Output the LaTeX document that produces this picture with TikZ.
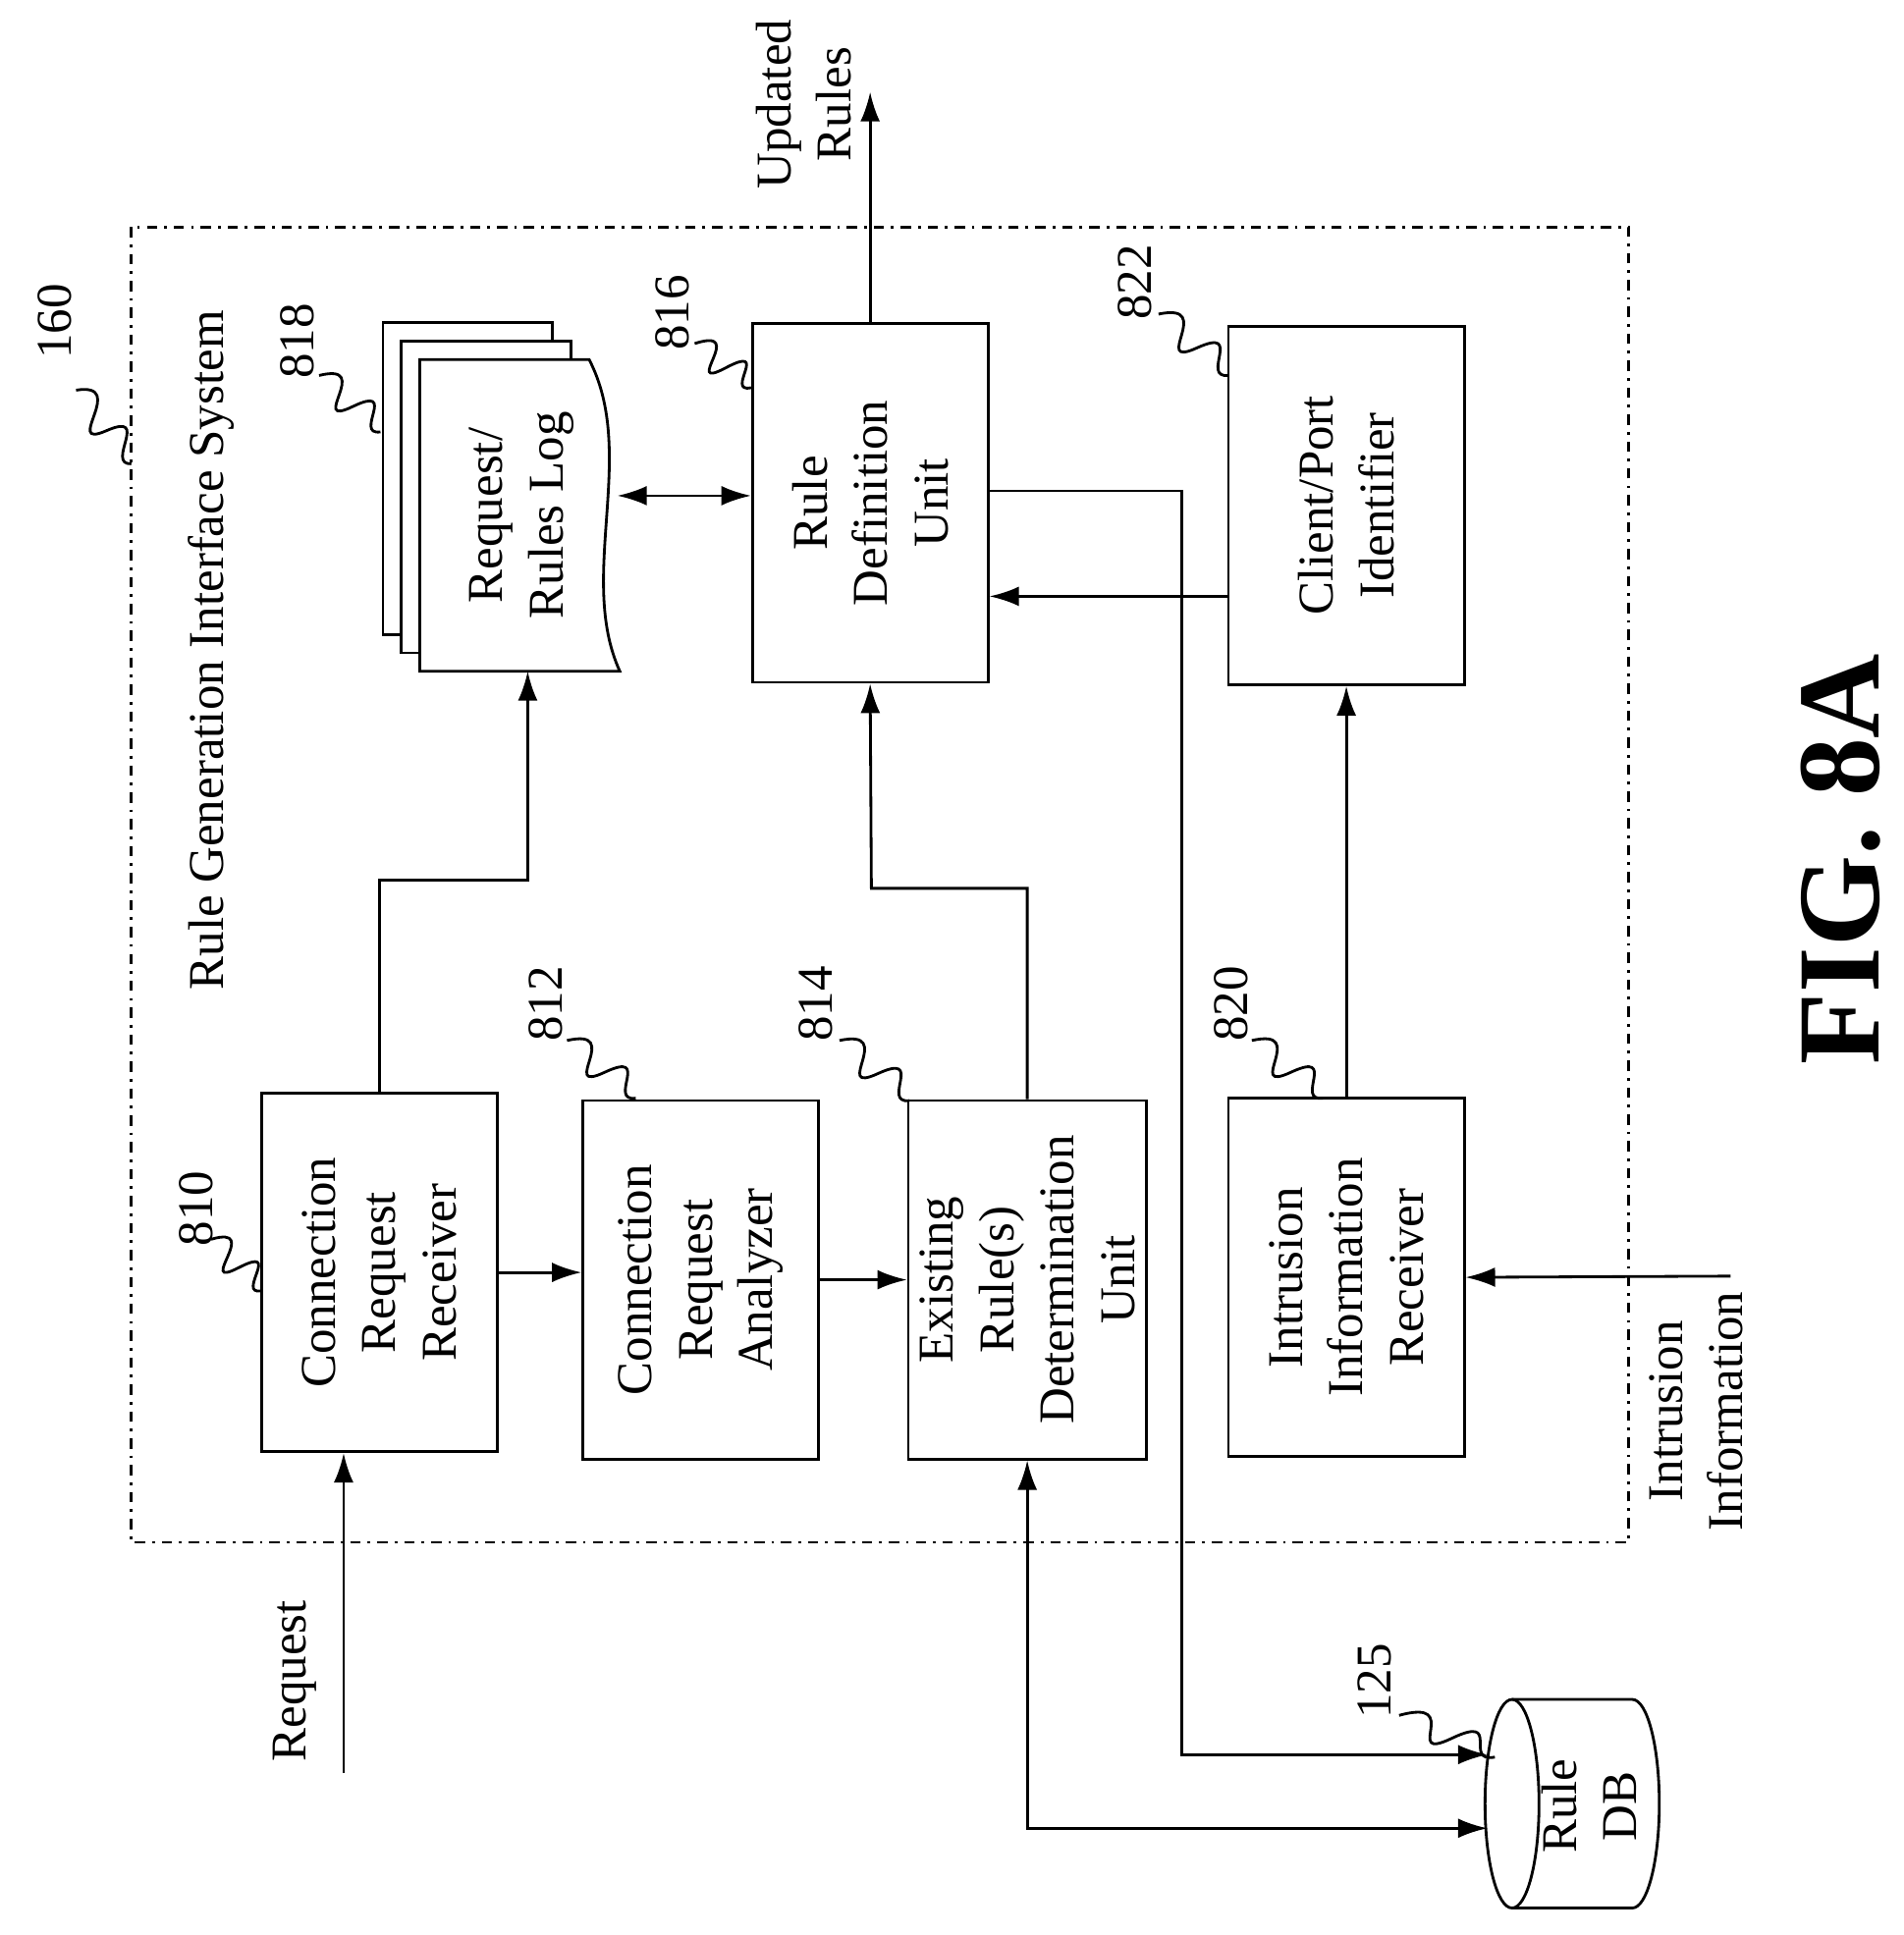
\documentclass[tikz,border=0pt]{standalone}
\usepackage{fontspec}
\setmainfont{Liberation Serif}
\usetikzlibrary{arrows.meta, positioning, calc}
\tikzstyle{unit}=[draw, thick, rectangle, minimum width=3.65cm, minimum height=2.4cm, align=center, rotate=90, font=\fontsize{14.5}{17.5}\selectfont]
\tikzstyle{txt}=[align=center, rotate=90, font=\fontsize{14.5}{17.5}\selectfont]
\tikzstyle{num}=[font=\fontsize{14.5}{17.5}\selectfont, rotate=90]
\tikzstyle{flow}=[thick, -{Latex[length=3mm,width=2mm]}]
\tikzstyle{both}=[thick, {Latex[length=3mm,width=2mm]}-{Latex[length=3mm,width=2mm]}]
\newcommand{\squig}[2]{\draw[thick] (#1) .. controls ($(#1)!0.3!(#2)+(30,-25)$) and ($(#1)!0.4!(#2)+(-30,25)$) .. ($(#1)!0.55!(#2)$) .. controls ($(#1)!0.7!(#2)+(30,-25)$) and ($(#1)!0.85!(#2)+(-15,10)$) .. (#2);}

\begin{document}
\begin{tikzpicture}[x=0.0125cm, y=-0.0125cm]
\useasboundingbox (0,0) rectangle (1551,1577);

% system boundary
\draw[thick, dash dot] (107,185) rectangle (1327,1257);
\node[txt] (title) at (172,530) {Rule Generation Interface System};
\node[num] (n160) at (45,262) {160};
\squig{62,318}{107,378}

% units
\node[unit] (receiver) at (309,1037) {Connection\\Request\\Receiver};
\node[unit] (analyzer) at (571,1043) {Connection\\Request\\Analyzer};
\node[unit] (existing) at (837,1043) {Existing\\Rule(s)\\Determination\\Unit};
\node[unit] (intrusion) at (1097,1041) {Intrusion\\Information\\Receiver};
\node[unit] (ruledef) at (709,410) {Rule\\Definition\\Unit};
\node[unit] (client) at (1097,412) {Client/Port\\Identifier};

% request / rules log (stacked sheets)
\foreach \d in {30,15}
  \draw[thick, fill=white] (342-\d,547-\d) -- (342-\d,293-\d) -- (480-\d,293-\d) -- (480-\d,547-\d) -- cycle;
\draw[thick, fill=white] (342,547) -- (342,293) -- (480,293)
  .. controls (520,370) and (470,470) .. (505,547) -- cycle;
\node[txt] (log) at (425,420) {Request/\\Rules Log};
\coordinate (logbot) at (430,547);
\coordinate (logright) at (503,404);

% rule database
\draw[thick] (1232,1385) -- (1330,1385) arc (-90:90:22 and 85) -- (1232,1555);
\draw[thick] (1232,1470) ellipse (22 and 85);
\node[txt] (db) at (1295,1472) {Rule\\DB};
\coordinate (dbtop) at (1212,1430);
\coordinate (dbbot) at (1212,1490);

% numbers
\node[num] (n810) at (160,985) {810};
\squig{172,1010}{213,1052}
\node[num] (n812) at (445,818) {812};
\squig{462,848}{518,895}
\node[num] (n814) at (665,818) {814};
\squig{684,848}{741,897}
\node[num] (n820) at (1003,818) {820};
\squig{1020,848}{1078,895}
\node[num] (n816) at (548,255) {816};
\squig{566,280}{612,316}
\node[num] (n818) at (242,278) {818};
\squig{260,306}{310,352}
\node[num] (n822) at (925,230) {822};
\squig{944,256}{1001,306}
\node[num] (n125) at (1120,1370) {125};
\squig{1140,1398}{1218,1432}

% external inputs and outputs
\node[txt] (req) at (240,1370) {Request};
\coordinate (reqin) at (280,1445);
\node[txt] (intr) at (1382,1150) {Intrusion\\Information};
\coordinate (intrin) at (1410,1040);
\node[txt] (upd) at (655,85) {Updated\\Rules};
\coordinate (updout) at (712,75);

% connectors
\draw[flow] (reqin) -- (reqin |- receiver.west);
\draw[flow] (receiver.south) -- (receiver.south -| analyzer.north);
\draw[flow] (analyzer.south) -- (existing.north);
\draw[flow] (receiver.east) |- (430,717) -- (logbot);
\draw[flow] (existing.east) |- (710,724) -- (ruledef.west);
\draw[flow] (intrusion.east) -- (client.west);
\draw[flow] (intrin) -- (intrusion.south);
\draw[flow] (client.north |- 0,486) -- (ruledef.south |- 0,486);
\draw[both] (logright) -- (ruledef.north |- logright);
\draw[flow] (ruledef.east) -- (ruledef.east |- updout);
\draw[flow] (ruledef.south |- 0,400) -| (963,1430) -- (dbtop);
\draw[both] (existing.west) |- (dbbot);

\node[font=\bfseries\fontsize{34}{34}\selectfont, rotate=90] (fig) at (1500,700) {FIG. 8A};
\end{tikzpicture}
\end{document}
